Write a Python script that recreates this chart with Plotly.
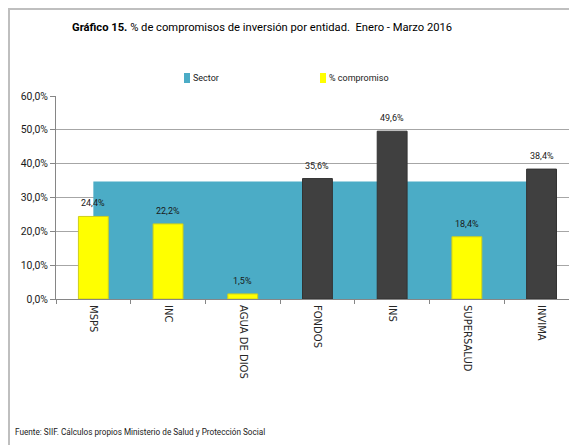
import plotly.graph_objects as go

# Datos del gráfico
entidades = ['MSPS', 'INC', 'AGUA DE DIOS', 'FONDOS', 'INS', 'SUPERSALUD', 'INVIMA']
compromiso = [24.4, 22.2, 1.5, 35.6, 49.6, 18.4, 38.4]
etiquetas = ['24,4%', '22,2%', '1,5%', '35,6%', '49,6%', '18,4%', '38,4%']
sector = [34.7, 34.7, 34.7, 34.7, 34.7, 34.7, 34.7]
colores_barra = ['#FFFF00', '#FFFF00', '#FFFF00', '#404040', '#404040', '#FFFF00', '#404040']
bordes_barra = ['#CFCF1A', '#CFCF1A', '#CFCF1A', '#333333', '#333333', '#CFCF1A', '#333333']
ticks_y = [0, 10, 20, 30, 40, 50, 60]
ticks_y_texto = ['0,0%', '10,0%', '20,0%', '30,0%', '40,0%', '50,0%', '60,0%']

# la página html tiene 8px de margen por defecto
OFF = 8
W, H = 577, 445
L, T = 56 - OFF, 96 - OFF
B = H - (299 - OFF)
R = 0
pw, ph = W - L - R, H - T - B

FONT = 'Roboto, Liberation Sans, Arial, sans-serif'


def px_x(p):
    return (p - OFF - L) / pw


def px_y(p):
    return (T + ph - (p - OFF)) / ph


fig = go.Figure()

# Área del sector (debajo)
fig.add_trace(go.Scatter(
    x=entidades, y=sector, mode='none', fill='tozeroy',
    fillcolor='#4BACC6', showlegend=False, hoverinfo='skip',
    xaxis='x', yaxis='y'
))

# Barras de % compromiso (encima, en eje superpuesto)
fig.add_trace(go.Bar(
    x=entidades, y=compromiso, width=0.4,
    marker=dict(color=colores_barra, line=dict(color=bordes_barra, width=1)),
    showlegend=False, xaxis='x', yaxis='y2'
))

# Etiquetas de datos
for ent, val, txt in zip(entidades, compromiso, etiquetas):
    fig.add_annotation(x=ent, y=val, text=txt, xref='x', yref='y2',
                       yanchor='middle', yshift=13, showarrow=False,
                       font=dict(family=FONT, size=9, color='#1a1a1a'))

fig.update_layout(
    width=W, height=H,
    margin=dict(l=L, r=R, t=T, b=B, autoexpand=False),
    paper_bgcolor='white', plot_bgcolor='white',
    barmode='overlay', showlegend=False,
    font=dict(family=FONT, size=10, color='#1a1a1a'),
    xaxis=dict(
        type='category', range=[-0.5, -0.5 + pw / 74.7], automargin=False,
        tickangle=90, tickson='boundaries', ticks='outside', ticklen=4,
        tickcolor='#868686', showline=True, linecolor='#868686', linewidth=1,
        ticklabelstandoff=3,
        showgrid=False, tickfont=dict(family='DejaVu Sans, sans-serif', size=10, color='#262626')
    ),
    yaxis=dict(
        range=[0, 60], tickvals=ticks_y, ticktext=ticks_y_texto, automargin=False,
        ticks='outside', ticklen=5, tickcolor='#868686',
        showline=True, linecolor='#868686', linewidth=1,
        showgrid=True, gridcolor='#A6A6A6', gridwidth=1, zeroline=False,
        tickfont=dict(family=FONT, size=10.4)
    ),
    yaxis2=dict(range=[0, 60], overlaying='y', visible=False),
)

# Título
fig.add_annotation(
    text='<b>Gráfico 15.</b> % de compromisos de inversión por entidad.  Enero - Marzo 2016',
    xref='paper', yref='paper', x=px_x(262), y=px_y(27), xanchor='center', yanchor='middle',
    showarrow=False, font=dict(family=FONT, size=11.2, color='#000000')
)

# Leyenda
for sx, nombre, col in [(184, 'Sector', '#4BACC6'), (320, '% compromiso', '#FFFF00')]:
    fig.add_shape(type='rect', xref='paper', yref='paper',
                  x0=px_x(sx), x1=px_x(sx + 6), y0=px_y(83), y1=px_y(73),
                  fillcolor=col, line=dict(width=0))
    fig.add_annotation(text=nombre, xref='paper', yref='paper', x=px_x(sx + 6.5), y=px_y(77.5),
                       xanchor='left', yanchor='middle', showarrow=False,
                       font=dict(family=FONT, size=9, color='#1a1a1a'))

# Marco del gráfico
fig.add_shape(
    type='rect', xref='paper', yref='paper',
    x0=px_x(OFF + 1), x1=px_x(W + 40), y0=px_y(H + 40), y1=px_y(OFF + 1),
    line=dict(color='#BFBFBF', width=2), fillcolor='rgba(0,0,0,0)', layer='below'
)

fig.add_annotation(
    text='Fuente: SIIF. Cálculos propios Ministerio de Salud y Protección Social',
    xref='paper', yref='paper', x=px_x(13), y=px_y(432),
    xanchor='left', yanchor='middle', showarrow=False,
    font=dict(family=FONT, size=8.2, color='#1a1a1a')
)

fig.write_html('out.html')
